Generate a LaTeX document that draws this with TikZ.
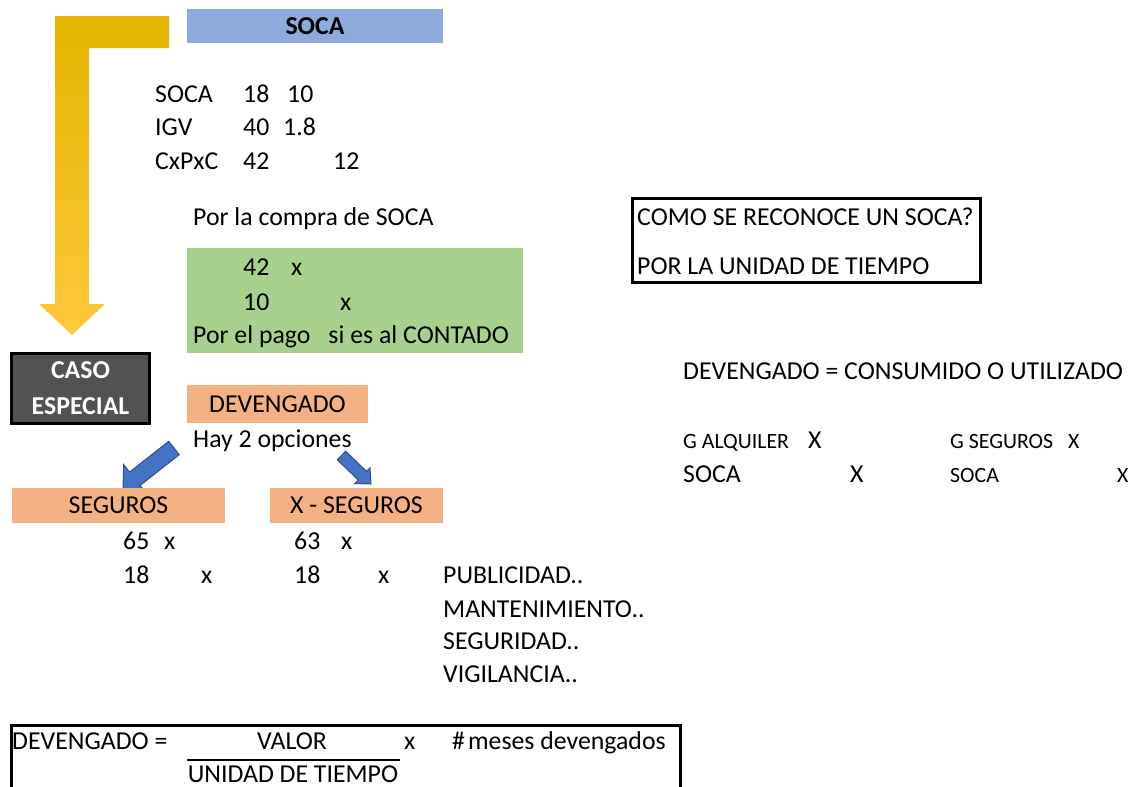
\documentclass[tikz,border=0pt]{standalone}
\usepackage{fontspec}
\setmainfont{Carlito}
\usetikzlibrary{calc}
\definecolor{socablue}{HTML}{8EA9DB}
\definecolor{softgreen}{HTML}{A9D18E}
\definecolor{softorange}{HTML}{F4B183}
\definecolor{darkgraybox}{HTML}{525252}
\definecolor{arrowblue}{HTML}{4472C4}
\definecolor{arrowedge}{HTML}{2F528F}
\definecolor{goldtop}{HTML}{E3B600}
\definecolor{goldmid}{HTML}{FFC000}
\definecolor{goldbot}{HTML}{FFC83D}
\tikzset{
  txt/.style={inner sep=0pt, anchor=base west, font=\fontsize{25.8}{30}\selectfont},
  smalltxt/.style={inner sep=0pt, anchor=base west, font=\fontsize{21.8}{25}\selectfont},
  ctxt/.style={inner sep=0pt, anchor=base, font=\fontsize{25.8}{30}\selectfont},
  band/.style={draw=none, inner sep=0pt, font=\fontsize{25.8}{30}\selectfont},
  framed/.style={draw=black, line width=3pt, inner sep=0pt},
  bluearrow/.style={fill=arrowblue, draw=arrowedge, line width=1pt, line join=miter},
}
\newcommand\blockarrow[5]{%
  \path ($(#2)!#5!(#1)$) coordinate (bah);
  \filldraw[bluearrow] ($(#1)!#3!90:(#2)$) -- ($(bah)!#3!-90:(#1)$) -- ($(bah)!#4!-90:(#1)$) -- (#2) -- ($(bah)!#4!90:(#1)$) -- ($(bah)!#3!90:(#1)$) -- ($(#1)!#3!-90:(#2)$) -- cycle;}
\begin{document}
\begin{tikzpicture}[x=1pt,y=-1pt]
\useasboundingbox (0,0) rectangle (1136,787);

% gold L-shaped arrow
\shade[top color=goldtop, middle color=goldmid, bottom color=goldbot]
  (55,16) -- (169,16) -- (169,48) -- (89,48) -- (89,304) -- (105,304) -- (72,335) -- (39,304) -- (55,304) -- cycle;

% title band
\node[band, fill=socablue, minimum width=256pt, minimum height=34pt] (title) at (315,26) {\bfseries SOCA};

% first list
\node[txt] (l1a) at (155,102) {SOCA};
\node[txt] (l1b) at (243,102) {18};
\node[txt] (l1c) at (287,102) {10};
\node[txt] (l2a) at (155,135) {IGV};
\node[txt] (l2b) at (243,135) {40};
\node[txt] (l2c) at (283,135) {1.8};
\node[txt] (l3a) at (155,169) {CxPxC};
\node[txt] (l3b) at (243,169) {42};
\node[txt] (l3c) at (333,169) {12};

\node[txt] (compra) at (193,225) {Por la compra de SOCA};

% green block
\node[band, fill=softgreen, minimum width=336pt, minimum height=105pt] (green) at (355,300.5) {};
\node[txt] (g1a) at (243,275) {42};
\node[txt] (g1b) at (291,275) {x};
\node[txt] (g2a) at (243,310) {10};
\node[txt] (g2b) at (340,310) {x};
\node[txt] (g3) at (193,343) {Por el pago\hspace{18pt}si es al CONTADO};

% caso especial
\node[framed, fill=darkgraybox, text=white, minimum width=138pt, minimum height=70pt,
      align=center, font=\bfseries\fontsize{25.8}{36}\selectfont] (caso) at (80.5,388) {CASO\\ESPECIAL};

% devengado band
\node[band, fill=softorange, minimum width=181pt, minimum height=38pt] (dev) at (277.5,404) {DEVENGADO};
\node[txt] (hay) at (193,447) {Hay 2 opciones};

% blue arrows
\coordinate (a1t) at (174,448);
\coordinate (a1h) at (123,488);
\blockarrow{a1t}{a1h}{8.5pt}{18pt}{15pt}
\coordinate (a2t) at (341.5,455.5);
\coordinate (a2h) at (371,484);
\blockarrow{a2t}{a2h}{6pt}{11pt}{12pt}

% option bands
\node[band, fill=softorange, minimum width=213pt, minimum height=35pt] (seg) at (118.5,505.5) {SEGUROS};
\node[band, fill=softorange, minimum width=173pt, minimum height=35pt] (xseg) at (356.5,505.5) {X - SEGUROS};

\node[txt] (s1a) at (123,549) {65};
\node[txt] (s1b) at (164,549) {x};
\node[txt] (s2a) at (123,583) {18};
\node[txt] (s2b) at (201,583) {x};
\node[txt] (x1a) at (294,549) {63};
\node[txt] (x1b) at (341,549) {x};
\node[txt] (x2a) at (294,583) {18};
\node[txt] (x2b) at (378,583) {x};
\node[txt] (pub) at (443,583) {PUBLICIDAD..};
\node[txt] (man) at (443,617) {MANTENIMIENTO..};
\node[txt] (segu) at (443,649) {SEGURIDAD..};
\node[txt] (vig) at (443,682) {VIGILANCIA..};

% formula box
\node[framed, minimum width=669pt, minimum height=74.5pt] (formula) at (346,762.75) {};
\node[txt] (f1) at (12,749) {DEVENGADO =};
\node[ctxt] (fnum) at (292,749) {VALOR};
\node[txt] (fx) at (404,749) {x};
\node[txt] (fmes) at (452,749) {\#\hspace{3pt}meses devengados};
\node[ctxt] (fden) at (293,782.5) {UNIDAD DE TIEMPO};
\coordinate (fracL) at (187,760);
\coordinate (fracR) at (400,760);
\draw[line width=2pt] (fracL) -- (fracR);

% right side
\node[framed, minimum width=348pt, minimum height=84pt] (como) at (806.5,240.5) {};
\node[txt] (c1) at (637,225) {COMO SE RECONOCE UN SOCA?};
\node[txt] (c2) at (637,274) {POR LA UNIDAD DE TIEMPO};

\node[txt] (devcons) at (683,379) {DEVENGADO = CONSUMIDO O UTILIZADO};

\node[smalltxt] (galq) at (683,448) {G ALQUILER};
\node[txt] (galqx) at (808,448) {X};
\node[smalltxt] (gseg) at (950,448) {G SEGUROS};
\node[smalltxt] (gsegx) at (1068,448) {X};
\node[txt] (soca1) at (683,482) {SOCA};
\node[txt] (soca1x) at (850,482) {X};
\node[smalltxt] (soca2) at (950,482) {SOCA};
\node[smalltxt] (soca2x) at (1117,482) {X};
\end{tikzpicture}
\end{document}
